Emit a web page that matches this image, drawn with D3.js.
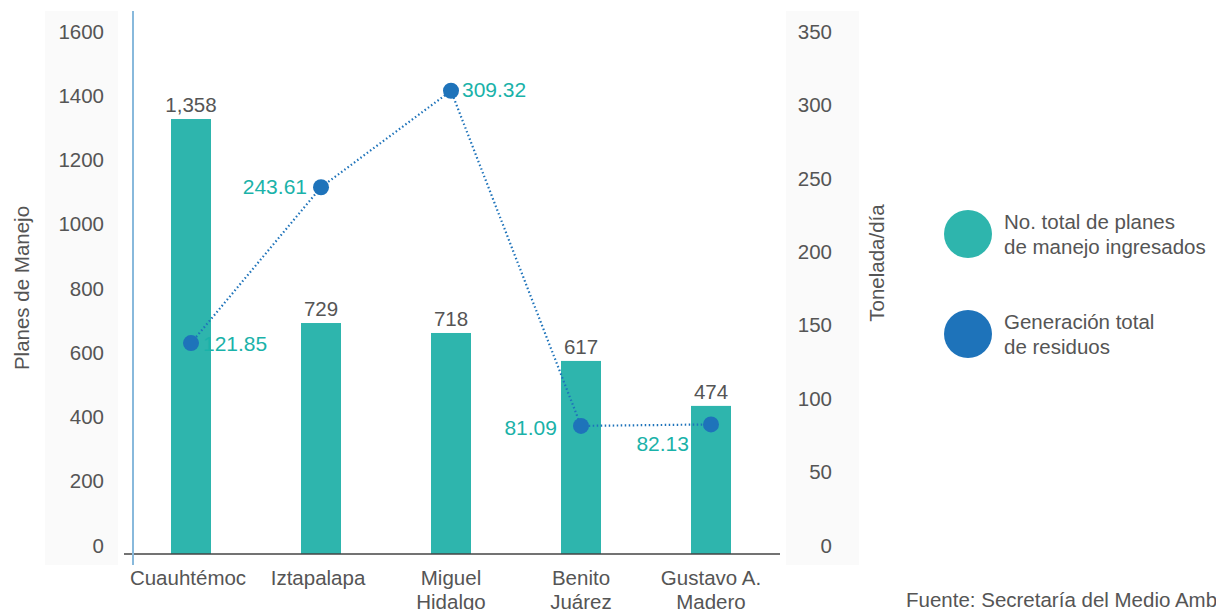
<!DOCTYPE html>
<html><head><meta charset="utf-8">
<script src="https://cdn.jsdelivr.net/npm/d3@7"></script>
<style>body{margin:0;background:#fff;} svg{display:block;font-family:"Liberation Sans",Arial,sans-serif;}</style>
</head><body><svg id="c" width="1216" height="610"></svg>
<script>
const categories = [["Cuauhtémoc"],["Iztapalapa"],["Miguel","Hidalgo"],["Benito","Juárez"],["Gustavo A.","Madero"]];
const barValues = [1354, 719, 688, 601, 461];
const barLabels = ["1,358","729","718","617","474"];
const lineValues = [137.5, 243.6, 309.3, 81.1, 82.1];
const lineLabels = ["121.85","243.61","309.32","81.09","82.13"];
const leftTicks = [0,200,400,600,800,1000,1200,1400,1600];
const rightTicks = [0,50,100,150,200,250,300,350];
const legendItems = [["No. total de planes","de manejo ingresados"],["Generación total","de residuos"]];

const teal = "#2eb5ad", blue = "#1e73ba", txt = "#555", labTeal = "#1ab2a9";
const FS = 20.5;
const svg = d3.select("#c");
const keys = categories.map(c => c.join(" "));
const x = d3.scaleBand().domain(keys).range([126, 776]).paddingInner(0.6923).paddingOuter(0.3462);
const yBar = d3.scaleLinear().domain([0,1600]).range([554, 40]);
const yTick = d3.scaleLinear().domain([0,1600]).range([545, 31]);
const yR = d3.scaleLinear().domain([0,350]).range([545, 31]);

// tick panels
svg.append("rect").attr("x",45).attr("y",11).attr("width",73).attr("height",554).attr("fill","#fafafa");
svg.append("rect").attr("x",786).attr("y",11).attr("width",73).attr("height",554).attr("fill","#fafafa");

const gl = svg.append("g").attr("transform","translate(104,0)")
  .call(d3.axisLeft(yTick).tickValues(leftTicks).tickSize(0).tickPadding(0).tickFormat(d3.format("d")));
gl.select(".domain").remove();
gl.selectAll("text").attr("fill",txt).attr("font-size",FS).attr("text-anchor","end").attr("dy","0.35em").attr("x",0);

const gr = svg.append("g").attr("transform","translate(832,0)")
  .call(d3.axisLeft(yR).tickValues(rightTicks).tickSize(0).tickPadding(0).tickFormat(d3.format("d")));
gr.select(".domain").remove();
gr.selectAll("text").attr("fill",txt).attr("font-size",FS).attr("text-anchor","end").attr("dy","0.35em").attr("x",0);

// axis titles
svg.append("text").attr("transform","translate(29,288) rotate(-90)").attr("text-anchor","middle")
  .attr("fill",txt).attr("font-size",FS).text("Planes de Manejo");
svg.append("text").attr("transform","translate(884,263) rotate(-90)").attr("text-anchor","middle")
  .attr("fill",txt).attr("font-size",FS).text("Tonelada/día");

// bars
svg.selectAll("rect.bar").data(barValues).enter().append("rect").attr("class","bar")
  .attr("x",(d,i)=>x(keys[i])).attr("width",x.bandwidth())
  .attr("y",d=>yBar(d)).attr("height",d=>yBar(0)-yBar(d)).attr("fill",teal);
svg.selectAll("text.bl").data(barLabels).enter().append("text").attr("class","bl")
  .attr("x",(d,i)=>x(keys[i])+x.bandwidth()/2).attr("y",(d,i)=>yBar(barValues[i])-7)
  .attr("text-anchor","middle").attr("fill",txt).attr("font-size",FS).text(d=>d);

// baseline & left blue line
svg.append("line").attr("x1",124).attr("x2",780).attr("y1",554).attr("y2",554).attr("stroke","#444").attr("stroke-width",1.5);
svg.append("line").attr("x1",133).attr("x2",133).attr("y1",11).attr("y2",565).attr("stroke","#88b9dc").attr("stroke-width",2);

// category labels
const cg = svg.selectAll("text.cat").data(categories).enter().append("text").attr("class","cat")
  .attr("text-anchor","middle").attr("fill",txt).attr("font-size",FS);
cg.each(function(d,i){
  const t = d3.select(this);
  d.forEach((s,j)=>t.append("tspan").attr("x",x(keys[i])+x.bandwidth()/2 - (i<2?3:0)).attr("y",585+j*24).text(s));
});

// line
const cx = (i)=>x(keys[i])+x.bandwidth()/2;
const line = d3.line().x((d,i)=>cx(i)).y(d=>yR(d));
svg.append("path").datum(lineValues).attr("d",line).attr("fill","none").attr("stroke",blue)
  .attr("stroke-width",2.2).attr("stroke-dasharray","1.5,2.5");
svg.selectAll("circle.pt").data(lineValues).enter().append("circle").attr("class","pt")
  .attr("cx",(d,i)=>cx(i)).attr("cy",d=>yR(d)).attr("r",8).attr("fill",blue);
const lblPos = [[12,8,"start"],[-14,7,"end"],[11,6,"start"],[-24,9,"end"],[-22,27,"end"]];
svg.selectAll("text.ll").data(lineLabels).enter().append("text").attr("class","ll")
  .attr("x",(d,i)=>cx(i)+lblPos[i][0]).attr("y",(d,i)=>yR(lineValues[i])+lblPos[i][1])
  .attr("text-anchor",(d,i)=>lblPos[i][2]).attr("fill",labTeal).attr("font-size",21).text(d=>d);

// legend
const lg = svg.selectAll("g.lg").data(legendItems).enter().append("g").attr("class","lg")
  .attr("transform",(d,i)=>`translate(968,${234+i*100})`);
lg.append("circle").attr("r",24).attr("fill",(d,i)=>i===0?teal:blue);
lg.each(function(d){
  const t = d3.select(this).append("text").attr("fill",txt).attr("font-size",FS);
  d.forEach((s,j)=>t.append("tspan").attr("x",36).attr("y",-5+j*25).text(s));
});

svg.append("text").attr("x",906).attr("y",607).attr("fill",txt).attr("font-size",FS)
  .text("Fuente: Secretaría del Medio Ambiente");
</script></body></html>
